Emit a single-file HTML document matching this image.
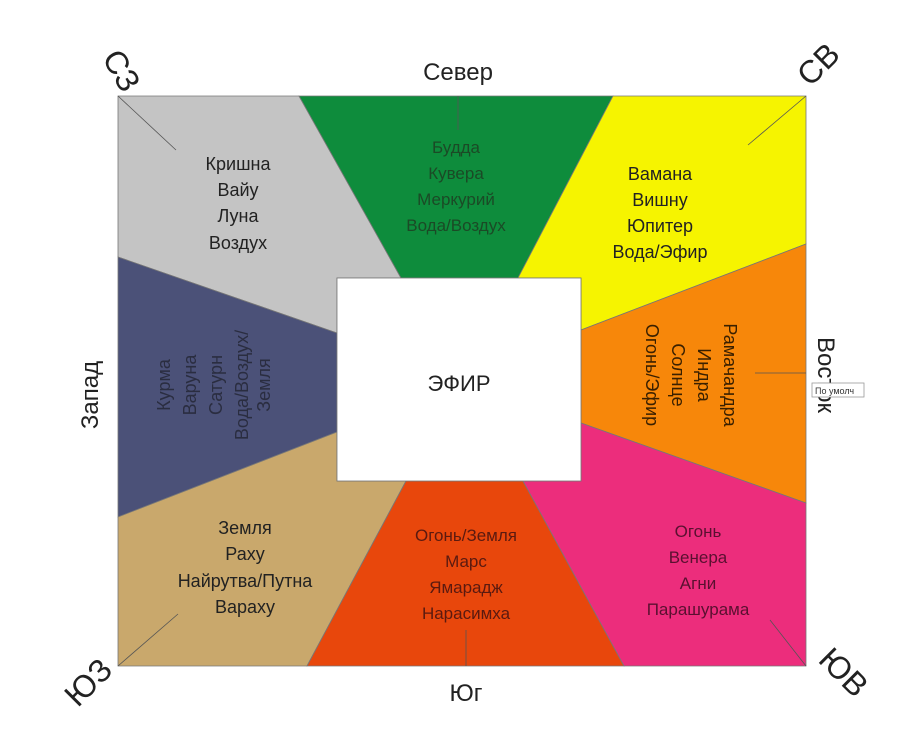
<!DOCTYPE html>
<html><head><meta charset="utf-8"><style>
body{margin:0;background:#fff;}
svg text{font-family:"Liberation Sans",sans-serif;}
</style></head><body>
<svg width="910" height="734" viewBox="0 0 910 734" xmlns="http://www.w3.org/2000/svg">
<g stroke="#777" stroke-width="0.8">
<polygon points="118,96 299,96 401,278 337,278 337,333 118,257" fill="#c4c4c4"/>
<polygon points="299,96 613,96 518,278 401,278" fill="#0e8c3c"/>
<polygon points="613,96 806,96 806,244 581,330 581,278 518,278" fill="#f6f400"/>
<polygon points="581,330 806,244 806,503 581,423" fill="#f7870a"/>
<polygon points="118,257 337,333 337,432 118,517" fill="#4b5178"/>
<polygon points="118,517 337,432 337,481 406,481 307,666 118,666" fill="#c9a86c"/>
<polygon points="406,481 523,481 624,666 307,666" fill="#e8470c"/>
<polygon points="523,481 581,481 581,423 806,503 806,666 624,666" fill="#ec2d7c"/>
<rect x="337" y="278" width="244" height="203" fill="#fff"/>
</g>
<g stroke="#555" stroke-width="0.8">
<line x1="118" y1="96" x2="176" y2="150"/><line x1="806" y1="96" x2="748" y2="145"/>
<line x1="118" y1="666" x2="178" y2="614"/><line x1="806" y1="666" x2="770" y2="620"/>
<line x1="458" y1="96" x2="458" y2="130"/><line x1="466" y1="666" x2="466" y2="630"/>
<line x1="755" y1="373" x2="806" y2="373"/>
</g>
<g font-size="18" text-anchor="middle" fill="#222">
<text x="238" y="170">Кришна</text><text x="238" y="196">Вайу</text><text x="238" y="222">Луна</text><text x="238" y="249">Воздух</text>
<g fill="#1b4a26" font-size="17"><text x="456" y="153">Будда</text><text x="456" y="179">Кувера</text><text x="456" y="205">Меркурий</text><text x="456" y="231">Вода/Воздух</text></g>
<text x="660" y="180">Вамана</text><text x="660" y="206">Вишну</text><text x="660" y="232">Юпитер</text><text x="660" y="258">Вода/Эфир</text>
<text x="245" y="534">Земля</text><text x="245" y="560">Раху</text><text x="245" y="587">Найрутва/Путна</text><text x="245" y="613">Вараху</text>
<g fill="#5a1a10" font-size="17"><text x="466" y="541">Огонь/Земля</text><text x="466" y="567">Марс</text><text x="466" y="593">Ямарадж</text><text x="466" y="619">Нарасимха</text></g>
<g fill="#5a1030" font-size="17"><text x="698" y="537">Огонь</text><text x="698" y="563">Венера</text><text x="698" y="589">Агни</text><text x="698" y="615">Парашурама</text></g>
<g transform="translate(215,385) rotate(-90)" fill="#2a2d40"><text x="0" y="-45">Курма</text><text x="0" y="-19">Варуна</text><text x="0" y="7">Сатурн</text><text x="0" y="33">Вода/Воздух/</text><text x="0" y="55">Земля</text></g>
<g transform="translate(690,375) rotate(90)" fill="#3a2000"><text x="0" y="-34">Рамачандра</text><text x="0" y="-8">Индра</text><text x="0" y="18">Солнце</text><text x="0" y="44">Огонь/Эфир</text></g>
<text x="459" y="391" font-size="22">ЭФИР</text>
<text x="458" y="80" font-size="24">Север</text>
<text x="466" y="701" font-size="24">Юг</text>
<text transform="translate(98,395) rotate(-90)" font-size="24">Запад</text>
<text transform="translate(818,375) rotate(90)" font-size="24">Восток</text>
<text transform="translate(112,76) rotate(60)" font-size="32">СЗ</text>
<text transform="translate(826,72) rotate(-45)" font-size="32">СВ</text>
<text transform="translate(96,690) rotate(-45)" font-size="32">ЮЗ</text>
<text transform="translate(836,680) rotate(45)" font-size="32">ЮВ</text>
</g>
<rect x="812" y="383" width="52" height="14" fill="#fff" stroke="#999" stroke-width="0.8"/>
<text x="815" y="394" font-size="9" fill="#333">По умолч</text>
</svg>
</body></html>
